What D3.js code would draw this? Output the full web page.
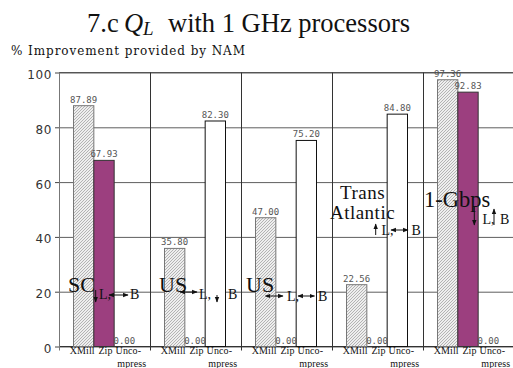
<!DOCTYPE html>
<html>
<head>
<meta charset="utf-8">
<script src="https://cdn.jsdelivr.net/npm/d3@7"></script>
<style>
  body { margin: 0; background: #fff; }
  svg { display: block; }
</style>
</head>
<body>
<svg id="chart"></svg>
<script>
// values
const series = ["XMill", "Zip", "Uncompress"];
const xmill = [87.89, 35.80, 47.00, 22.56, 97.36];
const zip = [67.93, 0.00, 0.00, 0.00, 92.83];
const uncompress = [0.00, 82.30, 75.20, 84.80, 0.00];
const networks = ["SC", "US", "US", "Trans Atlantic", "1-Gbps"];
// direction of the latency (L) and bandwidth (B) arrows per network
const latencyArrow = ["down", "both", "both", "up", "down"];
const bandwidthArrow = ["both", "down", "both", "both", "up"];
const barLabels = [["XMill"], ["Zip"], ["Unco-", "mpress"]];
const yTicks = [0, 20, 40, 60, 80, 100];

const width = 513, height = 368;
const plotLeft = 59, plotRight = 514, plotTop = 72.5, plotBottom = 346.5;
const serif = "'Liberation Serif', 'Times New Roman', serif";

const svg = d3.select("#chart")
    .attr("width", width)
    .attr("height", height);

const defs = svg.append("defs");

// hatch for XMill bars
const pat = defs.append("pattern")
    .attr("id", "hatch")
    .attr("patternUnits", "userSpaceOnUse")
    .attr("width", 3)
    .attr("height", 3);
pat.append("rect").attr("width", 3).attr("height", 3).attr("fill", "#eeeeee");
pat.append("path")
    .attr("d", "M-1,1 l2,-2 M0,3 l3,-3 M2,4 l2,-2")
    .attr("stroke", "#9a9a9a")
    .attr("stroke-width", 0.7);

// arrow head
defs.append("marker")
    .attr("id", "head")
    .attr("viewBox", "0 0 10 10")
    .attr("refX", 9).attr("refY", 5)
    .attr("markerUnits", "userSpaceOnUse")
    .attr("markerWidth", 5.5).attr("markerHeight", 5.5)
    .attr("orient", "auto-start-reverse")
    .append("path")
    .attr("d", "M0,1 L10,5 L0,9 Z")
    .attr("fill", "#111");

const x0 = d3.scaleBand().domain(d3.range(networks.length)).range([plotLeft, plotRight]);
const x1 = d3.scaleBand().domain(series).range([14.5, 75.5]);
const y = d3.scaleLinear().domain([0, 100]).range([plotBottom, plotTop]);
const fills = {XMill: "url(#hatch)", Zip: "#9c3f7f", Uncompress: "#ffffff"};
const strokes = {XMill: "#777", Zip: "#333", Uncompress: "#111"};

// title
const title = svg.append("text")
    .attr("y", 32)
    .attr("font-family", serif)
    .attr("font-size", 26.5)
    .attr("fill", "#111");
title.append("tspan").attr("x", 87).text("7.c");
title.append("tspan").attr("x", 124).attr("font-style", "italic").text("Q");
title.append("tspan").attr("x", 143).attr("dy", 3).attr("font-size", 19).attr("font-style", "italic").text("L");
title.append("tspan").attr("x", 168).attr("dy", -3).text("with 1 GHz processors");

svg.append("text")
    .attr("x", 11)
    .attr("y", 55)
    .attr("font-family", "'DejaVu Serif', serif")
    .attr("font-size", 12)
    .attr("textLength", 234)
    .attr("lengthAdjust", "spacing")
    .attr("fill", "#111")
    .text("% Improvement provided by NAM");

// grid
svg.append("g")
    .attr("transform", `translate(${plotLeft},0)`)
    .call(d3.axisLeft(y).tickValues(yTicks).tickSize(-(plotRight - plotLeft)).tickFormat(""))
    .call(g => g.select(".domain").remove())
    .call(g => g.selectAll("line").attr("stroke", "#5e5e5e"));

// y axis
svg.append("g")
    .attr("transform", `translate(${plotLeft},0)`)
    .call(d3.axisLeft(y).tickValues(yTicks).tickSize(4).tickPadding(3))
    .call(g => g.select(".domain").remove())
    .call(g => g.selectAll("line").attr("stroke", "#444"))
    .call(g => g.selectAll("text")
        .attr("font-family", "'DejaVu Sans', sans-serif")
        .attr("font-size", 12)
        .attr("letter-spacing", 0.6)
        .attr("dy", "0.5em")
        .attr("fill", "#333"));

// frame and group separators
svg.append("line")
    .attr("x1", plotLeft).attr("x2", plotRight)
    .attr("y1", y(100)).attr("y2", y(100))
    .attr("stroke", "#555");
svg.append("line")
    .attr("x1", plotLeft).attr("x2", plotRight)
    .attr("y1", y(0)).attr("y2", y(0))
    .attr("stroke", "#333");
svg.selectAll(".sep")
    .data(d3.range(networks.length + 1))
    .join("line")
    .attr("class", "sep")
    .attr("x1", d => Math.round(d < networks.length ? x0(d) : plotRight) + 0.5)
    .attr("x2", d => Math.round(d < networks.length ? x0(d) : plotRight) + 0.5)
    .attr("y1", y(100))
    .attr("y2", y(0) + 4)
    .attr("stroke", (d, i) => i === 0 ? "#777" : "#333");

// bars
const rows = d3.range(networks.length).map(i => ({
    g: i,
    vals: [
        {key: "XMill", v: xmill[i]},
        {key: "Zip", v: zip[i]},
        {key: "Uncompress", v: uncompress[i]}
    ]
}));

const grp = svg.selectAll(".grp")
    .data(rows)
    .join("g")
    .attr("class", "grp")
    .attr("transform", d => `translate(${x0(d.g)},0)`);

grp.selectAll("rect")
    .data(d => d.vals.filter(b => b.v > 0))
    .join("rect")
    .attr("x", d => x1(d.key))
    .attr("width", x1.bandwidth())
    .attr("y", d => y(d.v))
    .attr("height", d => y(0) - y(d.v))
    .attr("fill", d => fills[d.key])
    .attr("stroke", d => strokes[d.key])
    .attr("stroke-width", 1);

grp.selectAll(".val")
    .data(d => d.vals)
    .join("text")
    .attr("class", "val")
    .attr("x", d => x1(d.key) + x1.bandwidth() / 2)
    .attr("y", d => y(d.v) - 3)
    .attr("text-anchor", "middle")
    .attr("font-family", "'DejaVu Sans Mono', monospace")
    .attr("font-size", 9)
    .attr("fill", "#555")
    .text(d => d.v.toFixed(2));

// bar names under the axis
const nameShift = [[-1.5], [1.5], [4, 7.5]];
grp.selectAll(".name")
    .data(series.map((s, i) => ({key: s, lines: barLabels[i], dx: nameShift[i]})))
    .join("text")
    .attr("class", "name")
    .attr("text-anchor", "middle")
    .attr("font-family", serif)
    .attr("font-size", 10)
    .attr("letter-spacing", 0.1)
    .attr("fill", "#111")
    .each(function(d) {
        const cx = x1(d.key) + x1.bandwidth() / 2;
        d3.select(this).selectAll("tspan")
            .data(d.lines)
            .join("tspan")
            .attr("x", (t, j) => cx + d.dx[j])
            .attr("y", (t, j) => 354 + j * 13)
            .text(t => t);
    });

// network names
const namePlace = [
    {x: 9, y: 292, fs: 22, anchor: "start", ls: 0, lh: 0},
    {x: 9, y: 292, fs: 22, anchor: "start", ls: 0, lh: 0},
    {x: 5, y: 292, fs: 22, anchor: "start", ls: 0, lh: 0},
    {x: 30.5, y: 199, fs: 19, anchor: "middle", ls: 0.5, lh: 19.5},
    {x: 1, y: 207, fs: 22.5, anchor: "start", ls: 0, lh: 0}
];

grp.append("text")
    .attr("text-anchor", d => namePlace[d.g].anchor)
    .attr("font-family", serif)
    .attr("font-size", d => namePlace[d.g].fs)
    .attr("letter-spacing", d => namePlace[d.g].ls)
    .attr("fill", "#111")
    .each(function(d) {
        const p = namePlace[d.g];
        d3.select(this).selectAll("tspan")
            .data(networks[d.g].split(" "))
            .join("tspan")
            .attr("x", p.x)
            .attr("y", (t, j) => p.y + j * p.lh)
            .text(t => t);
    });

// "L," and "B" notes with their arrows, positions relative to the group
const notePlace = [
    {base: 299, lx: 40, bx: 71, la: {x: 36.7, y: [290, 302]}, ba: {x: [50, 69], y: 295}},
    {base: 299, lx: 49, bx: 78, la: {x: [30, 47], y: 292}, ba: {x: 67, y: [295, 302]}},
    {base: 301, lx: 46, bx: 77, la: {x: [24.5, 42], y: 296}, ba: {x: [57, 73.5], y: 296}},
    {base: 234.5, lx: 49.5, bx: 79.5, la: {x: 43.7, y: [224, 235]}, ba: {x: [59, 76], y: 230}},
    {base: 224, lx: 59.5, bx: 77, la: {x: 51.3, y: [207, 225]}, ba: {x: 71, y: [209, 225]}}
];

grp.append("text")
    .attr("x", d => notePlace[d.g].lx)
    .attr("y", d => notePlace[d.g].base)
    .attr("font-family", serif)
    .attr("font-size", 14)
    .attr("fill", "#111")
    .text("L,");

grp.append("text")
    .attr("x", d => notePlace[d.g].bx)
    .attr("y", d => notePlace[d.g].base)
    .attr("font-family", serif)
    .attr("font-size", 14)
    .attr("fill", "#111")
    .text("B");

function drawArrow(sel, kind, a) {
    const line = sel.append("line")
        .attr("stroke", "#111")
        .attr("stroke-width", 1);
    if (kind === "both") {
        line.attr("x1", a.x[0]).attr("x2", a.x[1])
            .attr("y1", a.y).attr("y2", a.y)
            .attr("marker-start", "url(#head)")
            .attr("marker-end", "url(#head)");
    } else {
        const [ya, yb] = kind === "down" ? a.y : [a.y[1], a.y[0]];
        line.attr("x1", a.x).attr("x2", a.x)
            .attr("y1", ya).attr("y2", yb)
            .attr("marker-end", "url(#head)");
    }
}

grp.each(function(d) {
    const g = d3.select(this);
    drawArrow(g, latencyArrow[d.g], notePlace[d.g].la);
    drawArrow(g, bandwidthArrow[d.g], notePlace[d.g].ba);
});
</script>
</body>
</html>
